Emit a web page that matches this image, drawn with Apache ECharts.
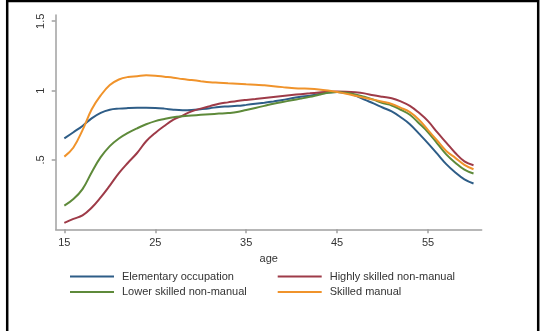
<!DOCTYPE html>
<html>
<head>
<meta charset="utf-8">
<script src="https://cdn.jsdelivr.net/npm/echarts@6/dist/echarts.min.js"></script>
<style>
  html, body { margin: 0; padding: 0; background: #fff; }
  #chart { width: 540px; height: 331px; }
</style>
</head>
<body>
<div id="chart"></div>
<script>
const ages = [15,16,17,18,19,20,21,22,23,24,25,26,27,28,29,30,31,32,33,34,35,36,37,38,39,40,41,42,43,44,45,46,47,48,49,50,51,52,53,54,55,56,57,58,59,60]

// values, one per year of age
const elementary = [0.655,0.70,0.745,0.80,0.84,0.862,0.870,0.874,0.876,0.876,0.875,0.870,0.862,0.858,0.860,0.866,0.873,0.882,0.886,0.890,0.897,0.905,0.913,0.922,0.932,0.945,0.955,0.963,0.975,0.987,0.99,0.982,0.965,0.935,0.908,0.878,0.850,0.808,0.758,0.69,0.62,0.545,0.47,0.41,0.36,0.33]
const highlySkilled = [0.046,0.075,0.10,0.155,0.23,0.315,0.405,0.48,0.55,0.635,0.695,0.745,0.79,0.82,0.85,0.87,0.888,0.905,0.915,0.925,0.933,0.94,0.947,0.954,0.961,0.968,0.974,0.98,0.986,0.991,0.993,0.992,0.988,0.98,0.966,0.955,0.945,0.922,0.89,0.84,0.78,0.70,0.625,0.55,0.49,0.462]
const lowerSkilled = [0.17,0.218,0.29,0.41,0.52,0.60,0.655,0.695,0.728,0.757,0.78,0.795,0.808,0.815,0.82,0.825,0.83,0.834,0.838,0.845,0.86,0.875,0.89,0.905,0.918,0.93,0.942,0.955,0.97,0.984,0.99,0.984,0.972,0.955,0.935,0.91,0.893,0.862,0.826,0.765,0.70,0.62,0.54,0.48,0.43,0.402]
const skilledManual = [0.524,0.59,0.715,0.864,0.965,1.04,1.08,1.098,1.104,1.11,1.107,1.10,1.093,1.083,1.076,1.068,1.061,1.057,1.053,1.05,1.046,1.043,1.038,1.032,1.025,1.018,1.015,1.013,1.008,1.0,0.99,0.978,0.963,0.948,0.935,0.92,0.903,0.876,0.845,0.79,0.715,0.64,0.565,0.515,0.465,0.433]

const xTicks = [15, 25, 35, 45, 55]
const yTicks = [0.5, 1, 1.5]
const yTickLabels = ['.5', '1', '1.5']

const chart = echarts.init(document.getElementById('chart'))

const axisGray = '#a0a0a0'
const txt = '#333'
const font = 'Liberation Sans, Arial, sans-serif'

const mk = (name, vals, color) => ({
  name,
  type: 'line',
  smooth: 0.4,
  symbol: 'none',
  data: ages.map((a, i) => [a, vals[i]]),
  lineStyle: { color, width: 2 },
  itemStyle: { color }
})

chart.setOption({
  animation: false,
  textStyle: { fontFamily: font },
  grid: { left: 55.7, right: 58.3, top: 15, bottom: 101.7 },
  xAxis: {
    type: 'value',
    min: 14.05,
    max: 60.9,
    name: 'age',
    nameLocation: 'middle',
    nameGap: 19,
    nameTextStyle: { color: txt, fontSize: 11, fontFamily: font },
    axisLine: { lineStyle: { color: axisGray, width: 1.5 } },
    axisTick: { show: true, length: 4, customValues: xTicks, lineStyle: { color: axisGray, width: 1.5 } },
    axisLabel: { customValues: xTicks, color: txt, fontSize: 11, margin: 8, fontFamily: font },
    splitLine: { show: false }
  },
  yAxis: {
    type: 'value',
    min: 0,
    max: 1.545,
    axisLine: { show: true, lineStyle: { color: axisGray, width: 1.5 } },
    axisTick: { show: true, length: 4, customValues: yTicks, lineStyle: { color: axisGray, width: 1.5 } },
    axisLabel: {
      customValues: yTicks,
      rotate: 90,
      color: txt,
      fontSize: 11,
      margin: 9,
      fontFamily: font,
      formatter: v => yTickLabels[yTicks.indexOf(v)]
    },
    splitLine: { show: false }
  },
  legend: [
    {
      left: 70, top: 270, orient: 'vertical', padding: 0, itemGap: 2.6,
      icon: 'rect', itemWidth: 44, itemHeight: 2,
      textStyle: { color: txt, fontSize: 11, lineHeight: 13, fontFamily: font, padding: [0, 0, 0, 3] },
      data: ['Elementary occupation', 'Lower skilled non-manual']
    },
    {
      left: 277.7, top: 270, orient: 'vertical', padding: 0, itemGap: 2.6,
      icon: 'rect', itemWidth: 44, itemHeight: 2,
      textStyle: { color: txt, fontSize: 11, lineHeight: 13, fontFamily: font, padding: [0, 0, 0, 3] },
      data: ['Highly skilled non-manual', 'Skilled manual']
    }
  ],
  graphic: [{
    type: 'rect',
    silent: true,
    shape: { x: 7.2, y: 1, width: 531, height: 345 },
    style: { fill: 'none', stroke: '#000', lineWidth: 2.5 }
  }],
  series: [
    mk('Elementary occupation', elementary, '#2e5d87'),
    mk('Highly skilled non-manual', highlySkilled, '#9e3b48'),
    mk('Lower skilled non-manual', lowerSkilled, '#5e8a3a'),
    mk('Skilled manual', skilledManual, '#f0932b')
  ]
})
</script>
</body>
</html>
